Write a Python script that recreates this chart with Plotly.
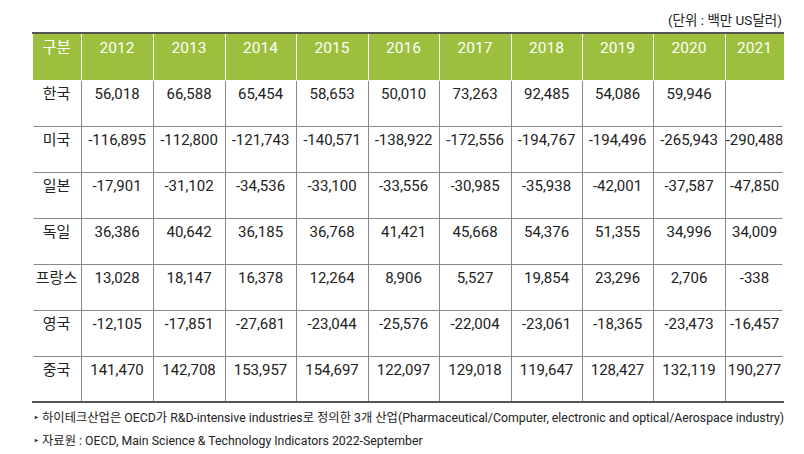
"""High-tech industry trade balance table."""

import plotly.graph_objects as go

YEARS = ["2012", "2013", "2014", "2015", "2016", "2017", "2018", "2019", "2020", "2021"]
COUNTRIES = ["한국", "미국", "일본", "독일", "프랑스", "영국", "중국"]

KOREA = [56018, 66588, 65454, 58653, 50010, 73263, 92485, 54086, 59946, None]
USA = [-116895, -112800, -121743, -140571, -138922, -172556, -194767, -194496, -265943, -290488]
JAPAN = [-17901, -31102, -34536, -33100, -33556, -30985, -35938, -42001, -37587, -47850]
GERMANY = [36386, 40642, 36185, 36768, 41421, 45668, 54376, 51355, 34996, 34009]
FRANCE = [13028, 18147, 16378, 12264, 8906, 5527, 19854, 23296, 2706, -338]
UK = [-12105, -17851, -27681, -23044, -25576, -22004, -23061, -18365, -23473, -16457]
CHINA = [141470, 142708, 153957, 154697, 122097, 129018, 119647, 128427, 132119, 190277]

UNIT_NOTE = "(단위 : 백만 US달러)"
FOOTNOTES = [
    "‣ 하이테크산업은 OECD가 R&D-intensive industries로 정의한 3개 산업(Pharmaceutical/Computer, electronic and optical/Aerospace industry)",
    "‣ 자료원 : OECD, Main Science & Technology Indicators 2022-September",
]

GREEN = "#9cbf3d"
FONT = "Roboto, 'Noto Sans CJK KR', sans-serif"


def fmt(value):
    if value is None:
        return ""
    return f"{value:,}"


rows = [KOREA, USA, JAPAN, GERMANY, FRANCE, UK, CHINA]
columns = [COUNTRIES] + [[fmt(row[i]) for row in rows] for i in range(len(YEARS))]

W, H = 804, 454
left, right, top = 24, 776, 25
header_h, row_h = 47, 46
bottom = top + header_h + row_h * len(COUNTRIES)

fig = go.Figure(
    go.Table(
        domain={"x": [left / W, right / W], "y": [0, 1 - top / H]},
        columnwidth=[49, 72, 72, 71, 72, 71, 72, 71, 71, 72, 59],
        header={
            "values": ["구분"] + YEARS,
            "fill_color": GREEN,
            "line": {"color": "white", "width": 1},
            "font": {"family": FONT, "size": 15.5, "color": "white"},
            "align": "center",
            "height": header_h,
        },
        cells={
            "values": columns,
            "fill_color": "white",
            "line": {"color": "#8a8a8a", "width": 1},
            "font": {"family": FONT, "size": 15, "color": "#222222"},
            "align": "center",
            "height": row_h,
        },
    )
)

# hide the outer side borders of the body, keep heavy top/bottom rules
for x in (left, right):
    fig.add_shape(type="line", xref="paper", yref="paper",
                  x0=x / W, x1=x / W, y0=1 - (top + header_h + 1) / H, y1=1 - (bottom + 1) / H,
                  line={"color": "white", "width": 3})
fig.add_shape(type="line", xref="paper", yref="paper",
              x0=left / W, x1=right / W, y0=1 - top / H, y1=1 - top / H,
              line={"color": "#555555", "width": 2})
fig.add_shape(type="line", xref="paper", yref="paper",
              x0=left / W, x1=right / W, y0=1 - bottom / H, y1=1 - bottom / H,
              line={"color": "#555555", "width": 2})

fig.add_annotation(text=UNIT_NOTE, xref="paper", yref="paper", x=right / W, y=1 - 12 / H,
                   xanchor="right", yanchor="middle", showarrow=False,
                   font={"family": FONT, "size": 13.5, "color": "#222222"})
for i, note in enumerate(FOOTNOTES):
    fig.add_annotation(text=note, xref="paper", yref="paper", x=left / W, y=1 - (410 + 23 * i) / H,
                       xanchor="left", yanchor="middle", showarrow=False,
                       font={"family": FONT, "size": 12.3, "color": "#222222"})

fig.update_layout(
    width=W,
    height=H,
    margin={"l": 0, "r": 0, "t": 0, "b": 0},
    paper_bgcolor="white",
    plot_bgcolor="white",
)

fig.write_html("out.html")
